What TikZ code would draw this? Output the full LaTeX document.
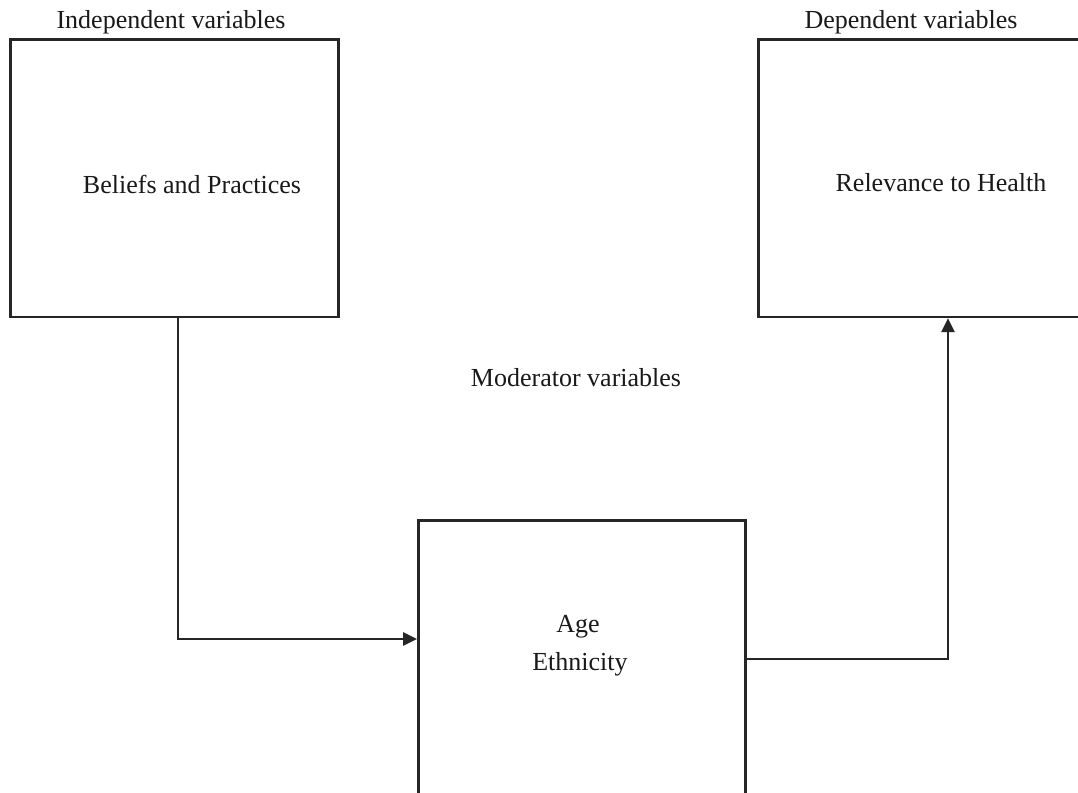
\documentclass[tikz,border=0pt]{standalone}
\usepackage{fontspec}
\setmainfont{Liberation Serif}
\usetikzlibrary{arrows.meta}
\begin{document}
\begin{tikzpicture}[x=1pt,y=-1pt,
  box/.style={draw=black!85,line width=2.6pt,inner sep=0pt,anchor=north west},
  lbl/.style={font=\fontsize{26}{30}\selectfont,text=black!90,inner sep=0pt,anchor=base},
  conn/.style={draw=black!85,line width=2.6pt},
  arr/.style={conn,-{Triangle[length=14pt,width=13pt]}}]
\clip (0,0) rectangle (1078,792);
\fill[white] (0,0) rectangle (1078,792);
\node[box,minimum width=328pt,minimum height=277pt] (lbox) at (9,38.5) {};
\node[box,minimum width=360pt,minimum height=277pt] (rbox) at (757,38.5) {};
\node[box,minimum width=327pt,minimum height=300pt] (mbox) at (417,519) {};
\node[lbl] (indep) at (171,29) {Independent variables};
\node[lbl] (dep) at (911,29) {Dependent variables};
\node[lbl] (bp) at (192,193) {Beliefs and Practices};
\node[lbl] (rh) at (941,191) {Relevance to Health};
\node[lbl] (mod) at (576,386) {Moderator variables};
\node[lbl] (age) at (578,632) {Age};
\node[lbl] (eth) at (580,670) {Ethnicity};
\coordinate (c1) at (178,639);
\coordinate (c2) at (948,659);
\draw[arr] (lbox.south -| c1) -- (c1) -- (mbox.west |- c1);
\draw[arr] (mbox.east |- c2) -- (c2) -- (rbox.south -| c2);
\end{tikzpicture}
\end{document}
